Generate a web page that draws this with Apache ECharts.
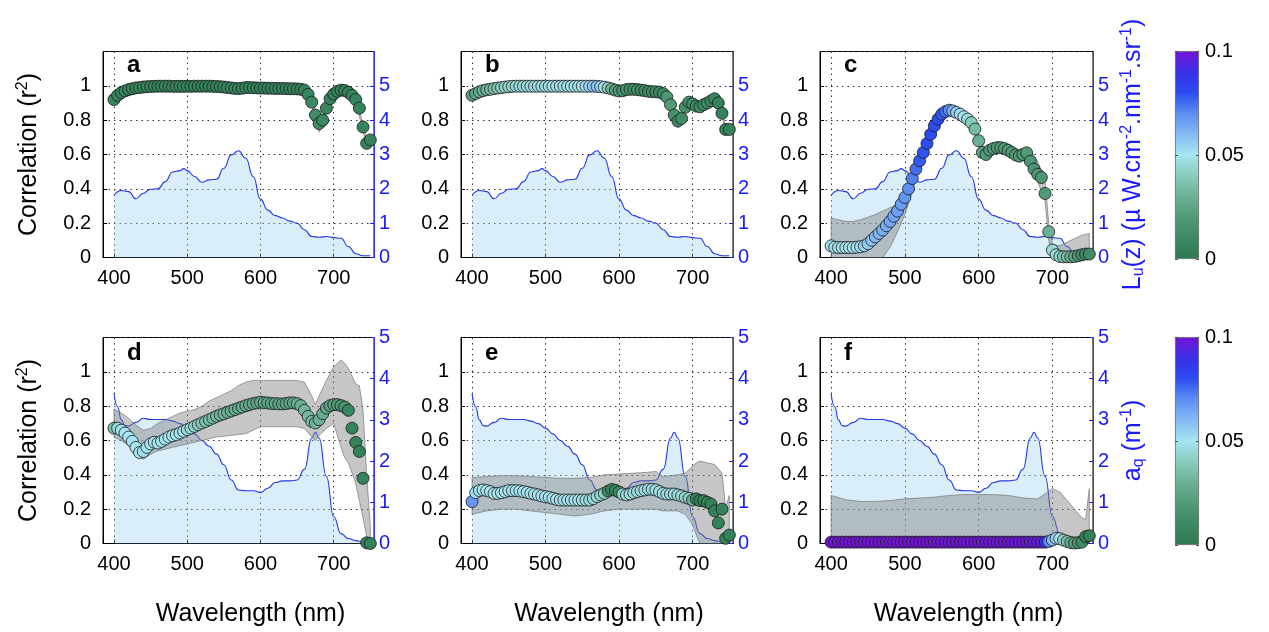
<!DOCTYPE html>
<html><head><meta charset="utf-8">
<script src="https://cdn.jsdelivr.net/npm/echarts@6/dist/echarts.min.js"></script>
<style>html,body{margin:0;padding:0;background:#fff}#c{width:1269px;height:632px}</style>
</head><body><div id="c"></div><script>
// ---------- data ----------
const WL = [400,405,410,415,420,425,430,435,440,445,450,455,460,465,470,475,480,485,490,495,500,505,510,515,520,525,530,535,540,545,550,555,560,565,570,575,580,585,590,595,600,605,610,615,620,625,630,635,640,645,650,655,660,665,670,675,680,685,690,695,700,705,710,715,720,725,730,735,740,745,750];

const R2_A = [.92,.945,.96,.97,.978,.983,.988,.99,.993,.995,
  .996,.997,.998,.998,.998,.998,.997,.997,.997,.997,
  .997,.997,.998,.998,.998,.998,.998,.997,.996,.995,
  .993,.99,.988,.985,.984,.986,.99,.99,.989,.988,
  .987,.987,.986,.986,.985,.985,.985,.984,.983,.983,
  .982,.98,.975,.95,.905,.83,.78,.80,.87,.925,
  .952,.968,.975,.973,.962,.945,.92,.87,.76,.665,
  .685];
const C_A = [.008,.008,.008,.007,.007,.007,.007,.007,.007,.007,
  .006,.006,.006,.006,.006,.006,.006,.006,.006,.006,
  .006,.006,.006,.006,.006,.006,.006,.006,.006,.006,
  .007,.008,.008,.008,.008,.007,.007,.006,.006,.006,
  .006,.006,.006,.006,.006,.006,.006,.006,.006,.006,
  .006,.006,.006,.008,.01,.012,.012,.01,.008,.006,
  .006,.006,.006,.006,.006,.006,.006,.006,.006,.006,
  .006];

const R2_B = [.945,.955,.965,.972,.977,.98,.984,.987,.99,.993,
  .995,.997,.998,.998,.998,.998,.998,.998,.998,.998,
  .998,.998,.998,.998,.998,.998,.998,.998,.998,.998,
  .998,.998,.998,.998,.997,.995,.992,.988,.982,.975,
  .97,.972,.978,.98,.98,.978,.975,.972,.968,.966,
  .965,.963,.955,.935,.89,.83,.795,.81,.875,.905,
  .895,.882,.878,.89,.9,.912,.925,.9,.84,.746,
  .746];
const C_B = [.022,.025,.028,.03,.032,.034,.036,.038,.04,.042,
  .043,.044,.045,.045,.046,.046,.046,.047,.047,.047,
  .047,.047,.048,.048,.048,.048,.048,.049,.049,.049,
  .05,.052,.054,.056,.058,.055,.05,.04,.03,.022,
  .018,.016,.015,.015,.014,.012,.012,.012,.012,.012,
  .012,.012,.01,.018,.02,.015,.01,.012,.014,.012,
  .012,.012,.012,.012,.012,.01,.008,.005,.005,.005,
  .005];

const R2_C = [.068,.06,.058,.058,.058,.058,.058,.06,.063,.068,
  .08,.1,.12,.14,.16,.185,.21,.24,.27,.31,
  .35,.4,.46,.515,.563,.612,.664,.718,.767,.806,
  .835,.85,.858,.854,.845,.835,.82,.806,.786,.748,
  .68,.612,.60,.625,.635,.64,.64,.635,.625,.612,
  .598,.59,.6,.61,.56,.515,.485,.466,.373,.15,
  .043,.016,.006,.004,.004,.004,.006,.01,.016,.02,
  .02];
const C_C = [.048,.048,.048,.049,.049,.05,.05,.051,.052,.054,
  .056,.058,.06,.061,.062,.063,.064,.065,.066,.067,
  .068,.07,.072,.075,.078,.079,.08,.08,.08,.08,
  .078,.075,.07,.062,.056,.052,.05,.046,.04,.034,
  .03,.022,.02,.02,.02,.02,.02,.02,.02,.02,
  .02,.02,.02,.02,.018,.018,.018,.018,.02,.03,
  .045,.046,.042,.038,.034,.03,.025,.018,.014,.012,
  .012];

const R2_D = [.672,.672,.66,.643,.62,.595,.56,.53,.536,.56,
  .58,.59,.585,.595,.608,.62,.628,.634,.643,.653,
  .663,.672,.682,.692,.702,.711,.721,.731,.741,.749,
  .756,.764,.772,.78,.788,.795,.803,.809,.815,.819,
  .823,.82,.819,.815,.815,.813,.813,.815,.819,.819,
  .815,.803,.776,.741,.711,.702,.721,.756,.789,.803,
  .809,.809,.803,.795,.776,.672,.589,.536,.38,.004,
  0];
const C_D = [.035,.045,.048,.05,.05,.05,.05,.05,.051,.051,
  .05,.05,.05,.05,.05,.05,.05,.05,.049,.048,
  .046,.044,.042,.04,.038,.036,.035,.034,.033,.032,
  .031,.03,.03,.029,.028,.028,.027,.027,.026,.026,
  .025,.025,.025,.025,.025,.025,.025,.025,.026,.027,
  .028,.03,.032,.033,.033,.032,.03,.028,.026,.024,
  .022,.02,.018,.015,.008,.006,.005,.005,.005,.005,
  .005];

const R2_E = [.244,.296,.308,.312,.308,.302,.292,.292,.296,.302,
  .308,.308,.308,.306,.302,.298,.292,.288,.283,.277,
  .273,.269,.263,.257,.253,.253,.253,.253,.253,.253,
  .253,.253,.253,.261,.273,.283,.292,.305,.315,.31,
  .30,.288,.283,.288,.296,.302,.308,.312,.316,.316,
  .312,.302,.292,.288,.288,.288,.283,.277,.269,.263,
  .253,.26,.25,.25,.24,.23,.19,.12,.2,.03,
  .049];
const C_E = [.068,.052,.05,.05,.05,.05,.05,.05,.05,.05,
  .05,.05,.05,.05,.05,.05,.05,.05,.05,.05,
  .05,.05,.05,.049,.049,.049,.049,.049,.049,.049,
  .048,.047,.046,.045,.044,.043,.042,.01,.008,.008,
  .01,.044,.045,.046,.046,.046,.047,.047,.047,.047,
  .047,.047,.047,.047,.047,.047,.046,.045,.044,.04,
  .03,.006,.005,.005,.005,.005,.005,.005,.005,.005,
  .005];

const R2_F = [.008,.008,.008,.008,.008,.008,.008,.008,.008,.008,
  .008,.008,.008,.008,.008,.008,.008,.008,.008,.008,
  .008,.008,.008,.008,.008,.008,.008,.008,.008,.008,
  .008,.008,.008,.008,.008,.008,.008,.008,.008,.008,
  .008,.008,.008,.008,.008,.008,.008,.008,.008,.008,
  .008,.008,.008,.008,.008,.008,.008,.008,.008,.012,
  .02,.03,.028,.02,.012,.005,.003,.005,.008,.04,
  .045];
const C_F = [.1,.1,.1,.1,.1,.1,.1,.1,.1,.1,
  .1,.1,.1,.1,.1,.1,.1,.1,.1,.1,
  .1,.1,.1,.1,.1,.1,.1,.1,.1,.1,
  .099,.099,.099,.099,.099,.099,.099,.099,.099,.099,
  .099,.099,.099,.099,.099,.099,.099,.099,.099,.099,
  .098,.098,.098,.098,.098,.098,.097,.096,.09,.07,
  .06,.055,.05,.042,.035,.028,.022,.018,.012,.006,
  .004];

// upwelling radiance Lu(z) (top row, right axis)
const LU_X = [400,410,420,430,440,450,460,470,480,490,495,500,510,520,530,540,550,560,570,580,590,600,610,620,630,640,650,660,670,680,690,700,710,720,730,740,750];
const LU   = [1.81,1.95,1.92,1.71,1.87,1.99,2.0,2.21,2.49,2.53,2.59,2.53,2.36,2.19,2.26,2.28,2.6,2.99,3.11,2.89,2.36,1.7,1.38,1.22,1.15,1.06,1.0,0.81,0.61,0.59,0.61,0.58,0.56,0.32,0.11,0.05,0.05];
// absorption a_q (bottom row, right axis)
const AQ_X = [400,405,410,415,420,430,440,450,460,470,480,490,500,510,520,530,540,550,560,570,580,590,600,610,620,630,640,650,660,670,675,680,690,700,710,720,730,740,750];
const AQ   = [3.64,3.32,3.0,2.86,2.85,2.94,3.04,3.01,3.01,3.01,2.97,2.91,2.8,2.66,2.5,2.36,2.17,1.91,1.54,1.3,1.28,1.28,1.24,1.34,1.48,1.52,1.52,1.54,1.8,2.56,2.7,2.56,1.63,0.65,0.24,0.12,0.07,0.04,0.02];

// confidence bands (lower / upper r2)
const BX_A = [400,410,420,430,440,460,480,500,520,540,560,570,580,600,620,640,660,665,670,675,680,685,690,700,710,720,730,740,745,750];
const BLO_A = [.905,.95,.97,.982,.988,.99,.99,.99,.99,.99,.98,.975,.982,.98,.978,.976,.968,.94,.885,.80,.73,.77,.85,.94,.965,.95,.905,.74,.64,.66];
const BHI_A = [.93,.97,.985,.995,1.0,1.0,1.0,1.0,1.0,1.0,.995,.99,.995,.992,.99,.99,.985,.96,.92,.85,.80,.82,.885,.96,.985,.972,.935,.78,.69,.70];
const BX_B = [400,410,420,440,460,480,500,520,540,560,580,590,600,620,640,660,665,670,675,680,685,690,700,710,720,730,740,745,750];
const BLO_B = [.935,.957,.97,.985,.99,.99,.99,.99,.99,.99,.985,.975,.962,.972,.96,.948,.925,.875,.81,.755,.79,.86,.885,.87,.89,.915,.83,.73,.73];
const BHI_B = [.955,.975,.985,.996,1.0,1.0,1.0,1.0,1.0,1.0,.998,.99,.978,.988,.975,.962,.945,.9,.845,.81,.82,.89,.905,.888,.91,.932,.855,.76,.76];
const BX_C = [400,410,420,430,440,450,460,470,480,490,500,510,520,530,540,550,560,570,580,590,600,610,620,630,640,650,660,670,680,690,695,700,705,710,720,730,740,750];
const BLO_C = [0,0,0,0,0,0,0,0,.06,.15,.25,.38,.53,.64,.74,.81,.84,.83,.80,.77,.66,.58,.62,.62,.60,.58,.57,.52,.44,.33,.10,0,0,0,0,0,0,0];
const BHI_C = [.23,.22,.21,.21,.22,.235,.25,.27,.29,.31,.36,.46,.60,.69,.79,.85,.87,.86,.84,.80,.70,.62,.65,.65,.64,.62,.62,.63,.56,.45,.20,.08,.07,.07,.09,.11,.13,.14];
const BX_D = [400,410,420,430,440,450,460,470,480,490,500,510,520,530,540,550,560,570,580,590,600,610,620,630,640,650,660,670,675,680,690,700,710,715,720,730,735,740,745,750];
const BLO_D = [.62,.60,.57,.53,.49,.52,.54,.55,.56,.57,.58,.59,.60,.61,.62,.625,.63,.635,.64,.66,.68,.68,.68,.68,.68,.68,.67,.62,.60,.63,.67,.70,.56,.50,.47,.35,.25,.15,.04,0];
const BHI_D = [.78,.76,.73,.69,.66,.67,.70,.72,.74,.76,.77,.78,.80,.83,.85,.87,.89,.92,.94,.95,.95,.95,.95,.95,.95,.95,.94,.86,.81,.86,.95,1.03,1.07,1.05,1.02,.93,.92,.78,.40,.10];
const BX_E = [400,420,440,460,480,500,520,540,560,580,600,620,640,650,660,680,690,700,705,710,720,730,740,745,750];
const BLO_E = [.17,.19,.2,.2,.19,.18,.17,.16,.17,.19,.2,.2,.2,.2,.19,.19,.17,.11,.05,0,0,0,0,0,0];
const BHI_E = [.385,.39,.395,.395,.39,.385,.38,.38,.385,.4,.405,.41,.415,.42,.39,.4,.41,.45,.47,.48,.47,.46,.41,.21,.28];
const BX_F = [400,420,440,460,480,500,520,540,560,580,600,620,640,660,680,690,700,710,720,730,740,745,750];
const BLO_F = [.015,.015,.015,.015,.015,.015,.015,.015,.015,.015,.015,.015,.015,.015,.015,.015,.01,0,0,0,0,0,0];
const BHI_F = [.28,.255,.245,.245,.25,.26,.265,.27,.28,.285,.285,.285,.28,.265,.26,.29,.32,.3,.25,.2,.15,.14,.32];

const COLORMAP = ['#2d7a52','#3b8962','#519a78','#6bb094','#89cbbd','#a6e5f1','#86b9f4','#5c8ef3','#2a4cf0','#3a2fe6','#7414d4'];
const CB_TICKS = [0, 0.05, 0.1];

// ---------- layout / style ----------
const FONT = 'Liberation Sans, Arial, Helvetica, sans-serif';
const COL_LEFT = [103, 461, 820];
const PW = [271, 272, 273];
const ROW_TOP = [51.5, 337.5];
const PH = 206;
const BLUE = '#1a1aff';
const DOT = {type:[1.5,4], color:'#333', width:1};
const TICK_FS = 20;

const panels = [
  {letter:'a', row:0, col:0, r2:R2_A, c:C_A, bx:BX_A, lo:BLO_A, hi:BHI_A},
  {letter:'b', row:0, col:1, r2:R2_B, c:C_B, bx:BX_B, lo:BLO_B, hi:BHI_B},
  {letter:'c', row:0, col:2, r2:R2_C, c:C_C, bx:BX_C, lo:BLO_C, hi:BHI_C},
  {letter:'d', row:1, col:0, r2:R2_D, c:C_D, bx:BX_D, lo:BLO_D, hi:BHI_D},
  {letter:'e', row:1, col:1, r2:R2_E, c:C_E, bx:BX_E, lo:BLO_E, hi:BHI_E},
  {letter:'f', row:1, col:2, r2:R2_F, c:C_F, bx:BX_F, lo:BLO_F, hi:BHI_F}
];

const grid=[], xAxis=[], yAxis=[], series=[], title=[], scatterIdx=[];
const corrName = {
  name:'{t|Correlation (r}{s|2}{t|)}', nameLocation:'middle', nameGap:60,
  nameTextStyle:{fontFamily:FONT, color:'#000', rich:{t:{fontSize:25,fontFamily:FONT,color:'#000'}, s:{fontSize:16,fontFamily:FONT,color:'#000',padding:[0,0,12,0]}}}
};

panels.forEach((p,i)=>{
  grid.push({left:COL_LEFT[p.col], top:ROW_TOP[p.row], width:PW[p.col], height:PH, show:true, borderColor:'#000', borderWidth:1, backgroundColor:'transparent'});
  const xa = {gridIndex:i, type:'value', min:385, max:755, splitNumber:4,
    axisLine:{show:true, onZero:false, lineStyle:{color:'#000', width:1}},
    axisTick:{show:true, inside:true, length:4, lineStyle:{color:'#000'}},
    axisLabel:{fontSize:TICK_FS, fontFamily:FONT, color:'#000', margin:11, showMinLabel:false, showMaxLabel:false},
    splitLine:{show:true, lineStyle:DOT}};
  if (p.row===1) Object.assign(xa, {name:'Wavelength (nm)', nameLocation:'middle', nameGap:58,
     nameTextStyle:{fontSize:25, fontFamily:FONT, color:'#000', padding:[0,0,0,24]}});
  xAxis.push(xa);
  const yl = {gridIndex:i, type:'value', min:0, max:1.2, interval:0.2, position:'left',
    axisLine:{show:true, lineStyle:{color:'#000', width:1}},
    axisTick:{show:true, inside:true, length:4, lineStyle:{color:'#000'}},
    axisLabel:{fontSize:TICK_FS, fontFamily:FONT, color:'#000', margin:12, showMaxLabel:false},
    splitLine:{show:true, lineStyle:DOT}};
  if (p.col===0) Object.assign(yl, corrName);
  yAxis.push(yl);
  const yr = {gridIndex:i, type:'value', min:0, max:p.row===0?6:5, interval:1, position:'right',
    axisLine:{show:true, lineStyle:{color:'#3535ff', width:1}},
    axisTick:{show:true, inside:true, length:4, lineStyle:{color:BLUE}},
    axisLabel:{fontSize:TICK_FS, fontFamily:FONT, color:BLUE, margin:5, showMaxLabel:p.row===1},
    splitLine:{show:false}};
  if (p.letter==='c') Object.assign(yr, {name:'{t|L}{b|u}{t|(z) (\u00b5 W.cm}{s|-2}{t|.nm}{s|-1}{t|.sr}{s|-1}{t|)}', nameLocation:'middle', nameGap:26,
     nameTextStyle:{fontFamily:FONT, color:BLUE, rich:{t:{fontSize:25,fontFamily:FONT,color:BLUE}, s:{fontSize:16,fontFamily:FONT,color:BLUE,padding:[0,0,12,0]}, b:{fontSize:16,fontFamily:FONT,color:BLUE,padding:[12,0,0,0]}}}});
  if (p.letter==='f') Object.assign(yr, {name:'{t|a}{b|q}{t| (m}{s|-1}{t|)}', nameLocation:'middle', nameGap:26,
     nameTextStyle:{fontFamily:FONT, color:BLUE, rich:{t:{fontSize:25,fontFamily:FONT,color:BLUE}, s:{fontSize:16,fontFamily:FONT,color:BLUE,padding:[0,0,12,0]}, b:{fontSize:16,fontFamily:FONT,color:BLUE,padding:[12,0,0,0]}}}});
  yAxis.push(yr);

  const specX = p.row===0 ? LU_X : AQ_X;
  const specY = p.row===0 ? LU : AQ;
  series.push({type:'line', xAxisIndex:i, yAxisIndex:2*i+1, data:specX.map((x,k)=>[x,specY[k]]),
    smooth:0.5, smoothMonotone:'x', symbol:'none', silent:true, z:1,
    lineStyle:{color:'#2436e8', width:1.1}, areaStyle:{color:'rgba(150,208,242,0.5)'}});
  // confidence band polygon, drawn through the axes' scales
  series.push({type:'custom', xAxisIndex:i, yAxisIndex:2*i, silent:true, z:2, clip:true,
    data:p.bx.map((x,k)=>[x,p.lo[k],p.hi[k]]), encode:{x:0, y:[1,2]},
    renderItem:(params, api)=>{
      if (params.dataIndex !== 0) return null;
      const up = p.bx.map((x,k)=>api.coord([x,p.hi[k]]));
      const dn = p.bx.map((x,k)=>api.coord([x,p.lo[k]])).reverse();
      return {type:'polygon', shape:{points:up.concat(dn)},
        style:{fill:'rgba(128,128,128,0.45)', stroke:'rgba(110,110,110,0.8)', lineWidth:0.8}};
    }});
  scatterIdx.push(series.length);
  series.push({type:'scatter', xAxisIndex:i, yAxisIndex:2*i, data:WL.map((x,k)=>[x,p.r2[k],p.c[k]]),
    symbolSize:12, z:3, itemStyle:{borderColor:'#1b1b1b', borderWidth:0.8, opacity:1}});

  title.push({text:p.letter, left:COL_LEFT[p.col]+24, top:p.row===0?53.5:341.5, padding:0,
    textStyle:{fontSize:24, fontWeight:'bold', fontFamily:FONT, color:'#000'}});
});

// colorbars
const CB_TOP = [51, 337];
const cbGrad = new echarts.graphic.LinearGradient(0,1,0,0, COLORMAP.map((c,k)=>({offset:k/(COLORMAP.length-1), color:c})));
[0,1].forEach(r=>{
  const gi = grid.length;
  grid.push({left:1175, top:CB_TOP[r], width:24, height:208});
  xAxis.push({gridIndex:gi, type:'category', data:['cb'], show:false});
  yAxis.push({gridIndex:gi, type:'value', min:0, max:0.1, interval:0.05, position:'right', z:5,
    axisLine:{show:false}, axisTick:{show:true, inside:true, length:3, lineStyle:{color:'#555'}},
    axisLabel:{fontSize:TICK_FS, fontFamily:FONT, color:'#000', margin:6}, splitLine:{show:false}});
  yAxis.push({gridIndex:gi, type:'value', min:0, max:0.1, interval:0.05, position:'left', z:5,
    axisLine:{show:false}, axisTick:{show:true, inside:true, length:3, lineStyle:{color:'#555'}},
    axisLabel:{show:false}, splitLine:{show:false}});
  series.push({type:'bar', xAxisIndex:gi, yAxisIndex:yAxis.length-2, data:[CB_TICKS[2]], barWidth:'100%', silent:true,
    itemStyle:{color:cbGrad, borderColor:'#666', borderWidth:0.8}});
});

const chart = echarts.init(document.getElementById('c'), null, {renderer:'canvas'});
chart.setOption({
  animation:false,
  backgroundColor:'#fff',
  textStyle:{fontFamily:FONT},
  title, grid, xAxis, yAxis, series,
  visualMap:[{type:'continuous', show:false, min:0, max:0.1, dimension:2, seriesIndex:scatterIdx, inRange:{color:COLORMAP}}]
});
</script></body></html>
